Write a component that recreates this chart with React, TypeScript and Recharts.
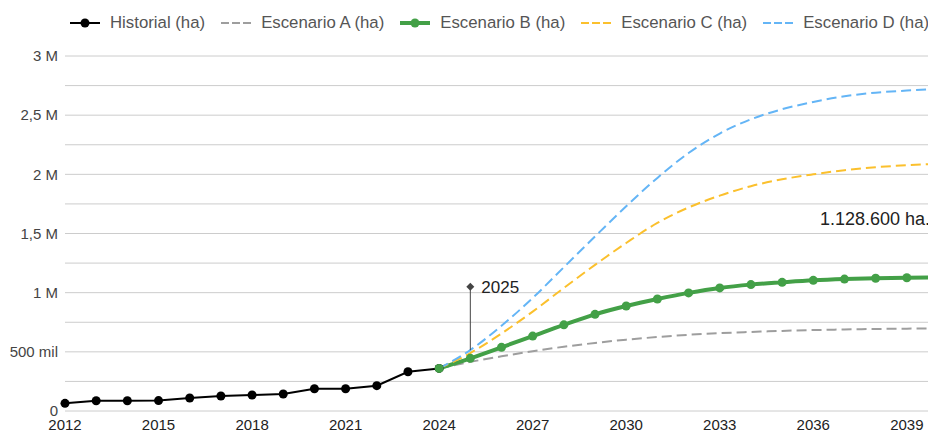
import React from 'react';
import {
    LineChart,
    Line,
    XAxis,
    YAxis,
    CartesianGrid,
    Legend,
    ReferenceLine,
    ReferenceDot
} from 'recharts';

// años del eje X
const years = [
    2012, 2013, 2014, 2015, 2016, 2017, 2018, 2019, 2020, 2021, 2022, 2023, 2024,
    2025, 2026, 2027, 2028, 2029, 2030, 2031, 2032, 2033, 2034, 2035, 2036, 2037, 2038, 2039, 2040,
];

// 2012 - 2024
const historial = [65000, 87000, 87000, 88000, 110000, 127000, 135000, 144000, 188000, 188000, 214000, 332000, 360000];

// 2024 - 2040
const escenarioA = [360000, 415000, 462000, 505000, 543000, 575000, 603000, 625000, 644000, 658000, 668000, 677000, 684000, 689000, 693000, 696000, 698000];
const escenarioB = [360000, 445000, 538000, 633000, 728000, 817000, 887000, 946000, 998000, 1040000, 1068000, 1087000, 1104000, 1115000, 1122000, 1126000, 1128600];
const escenarioC = [360000, 490000, 655000, 840000, 1040000, 1235000, 1420000, 1590000, 1720000, 1820000, 1900000, 1958000, 2000000, 2035000, 2060000, 2077000, 2088000];
const escenarioD = [360000, 515000, 720000, 955000, 1215000, 1475000, 1730000, 1970000, 2180000, 2345000, 2465000, 2550000, 2612000, 2660000, 2690000, 2708000, 2720000];

const xTicks = [2012, 2015, 2018, 2021, 2024, 2027, 2030, 2033, 2036, 2039];
const yTicks = [0, 250000, 500000, 750000, 1000000, 1250000, 1500000, 1750000, 2000000, 2250000, 2500000, 2750000, 3000000];
const yTickLabels: Record<number, string> = {
    0: '0',
    500000: '500 mil',
    1000000: '1 M',
    1500000: '1,5 M',
    2000000: '2 M',
    2500000: '2,5 M',
    3000000: '3 M',
};

const markerYear = 2025;
const markerLabel = '2025';
const finalLabel = '1.128.600 ha.';

const scenarioStart = years.indexOf(2024);

const data = years.map((year, i) => ({
    year,
    historial: i < historial.length ? historial[i] : null,
    a: i >= scenarioStart ? escenarioA[i - scenarioStart] : null,
    b: i >= scenarioStart ? escenarioB[i - scenarioStart] : null,
    c: i >= scenarioStart ? escenarioC[i - scenarioStart] : null,
    d: i >= scenarioStart ? escenarioD[i - scenarioStart] : null,
}));

const FONT = 'Arial, "Liberation Sans", sans-serif';

const series = [
    { key: 'historial', name: 'Historial (ha)', color: '#000000', dash: undefined, dot: true, width: 2 },
    { key: 'a', name: 'Escenario A (ha)', color: '#9e9e9e', dash: '10 5', dot: false, width: 2 },
    { key: 'b', name: 'Escenario B (ha)', color: '#43a047', dash: undefined, dot: true, width: 4 },
    { key: 'c', name: 'Escenario C (ha)', color: '#fbc02d', dash: '10 5', dot: false, width: 2 },
    { key: 'd', name: 'Escenario D (ha)', color: '#64b5f6', dash: '10 5', dot: false, width: 2 },
];

const LegendContent = () => (
    <div style={{ display: 'flex', alignItems: 'center', height: 20, width: 'max-content', paddingLeft: 70, fontFamily: FONT, fontSize: 16.8, color: '#555', whiteSpace: 'nowrap' }}>
        {series.map((s, i) => (
            <div key={s.key} style={{ display: 'flex', alignItems: 'center', flexShrink: 0, marginLeft: i === 0 ? 0 : 16 }}>
                <svg width={30} height={12} style={{ marginRight: 10, flexShrink: 0 }}>
                    <line
                        x1={0}
                        y1={6}
                        x2={30}
                        y2={6}
                        stroke={s.color}
                        strokeWidth={s.key === 'b' ? 4 : 2}
                        strokeDasharray={s.dash ? '8 3' : undefined}
                    />
                    {s.dot && <circle cx={15} cy={6} r={4.5} fill={s.color} />}
                </svg>
                <span style={{ lineHeight: '20px', whiteSpace: 'nowrap' }}>{s.name}</span>
            </div>
        ))}
    </div>
);

const MarkerShape = (props: any) => {
    const { cx, cy } = props;
    return (
        <g>
            <path d={`M${cx},${cy - 4} L${cx + 4},${cy} L${cx},${cy + 4} L${cx - 4},${cy} Z`} fill="#444" />
            <text x={cx + 11} y={cy} dy="0.35em" fontSize={17} fill="#222" fontFamily={FONT}>
                {markerLabel}
            </text>
        </g>
    );
};

const FinalShape = (props: any) => {
    const { cx, cy } = props;
    return (
        <text x={cx - 8} y={cy - 59} dy="0.35em" textAnchor="end" fontSize={18} fill="#222" fontFamily={FONT}>
            {finalLabel}
        </text>
    );
};

const App: React.FC = () => {
    return (
        <div style={{ position: 'absolute', left: 0, top: 0, width: 928, height: 432, overflow: 'hidden', background: '#fff' }}>
            <LineChart
                width={940}
                height={432}
                data={data}
                margin={{ top: 56, right: 2, left: 0, bottom: 0 }}
                style={{ fontFamily: FONT }}
            >
                <CartesianGrid vertical={false} stroke="#cccccc" />
                <XAxis
                    dataKey="year"
                    type="number"
                    domain={[2012, 2040]}
                    ticks={xTicks}
                    height={21}
                    axisLine={false}
                    tickLine={false}
                    tickSize={0}
                    tickMargin={8}
                    interval={0}
                    tick={{ fill: '#222', fontSize: 15 }}
                />
                <YAxis
                    domain={[0, 3000000]}
                    ticks={yTicks}
                    width={65}
                    axisLine={false}
                    tickLine={false}
                    tickSize={0}
                    tickMargin={7}
                    interval={0}
                    tickFormatter={(v: number) => yTickLabels[v] ?? ''}
                    tick={{ fill: '#444', fontSize: 15 }}
                />
                <Legend verticalAlign="middle" align="center" wrapperStyle={{ top: 13, left: 0, width: 928 }} content={<LegendContent />} />
                {series.map((s) => (
                    <Line
                        key={s.key}
                        type={s.key === 'historial' ? 'linear' : 'monotone'}
                        dataKey={s.key}
                        name={s.name}
                        stroke={s.color}
                        strokeWidth={s.width}
                        strokeDasharray={s.dash}
                        dot={s.dot ? { r: 4.5, fill: s.color, stroke: 'none' } : false}
                        activeDot={false}
                        isAnimationActive={false}
                    />
                ))}
                <ReferenceLine
                    segment={[
                        { x: markerYear, y: escenarioD[1] },
                        { x: markerYear, y: 1050000 },
                    ]}
                    stroke="#444"
                    strokeWidth={1}
                />
                <ReferenceDot x={markerYear} y={1050000} r={4} shape={MarkerShape} />
                <ReferenceDot x={2040} y={escenarioB[escenarioB.length - 1]} r={1} shape={FinalShape} />
            </LineChart>
        </div>
    );
};

export default App;
